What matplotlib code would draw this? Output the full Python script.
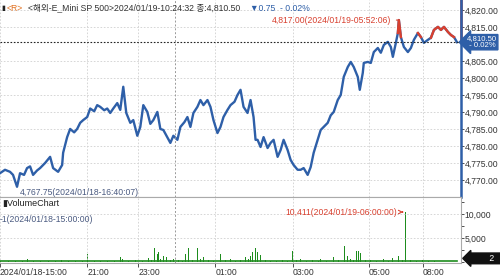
import numpy as np
import matplotlib
matplotlib.use("Agg")
import matplotlib.pyplot as plt
from matplotlib.ticker import FuncFormatter, MultipleLocator

# price trace (x = bar position on the chart, y = price)
px = [0, 5, 10, 13, 17, 20, 24, 27, 30, 33, 37, 40, 45, 50, 53, 58, 62, 63, 67, 70,
      74, 77, 80, 83, 87, 90, 94, 97, 100, 104, 107, 110, 113, 117, 120, 123, 126, 130, 133, 137,
      140, 143, 147, 150, 153, 157, 160, 163, 167, 170, 173, 177, 180, 184, 187, 190, 193, 197, 200, 203,
      207, 210, 213, 217, 220, 223, 227, 230, 234, 237, 240, 243, 247, 250, 253, 255, 257, 260, 263, 267,
      270, 273, 277, 280, 283, 287, 290, 293, 297, 300, 303, 307, 310, 313, 317, 320, 323, 327, 330, 333,
      337, 340, 343, 347, 350, 353, 357, 359, 362, 363, 367, 370, 373, 377, 380, 383, 387, 390, 392, 395,
      397, 398, 400, 403, 407, 410, 413, 417, 420, 423, 427, 430, 433, 437, 440, 443, 447, 450, 453, 456]
price = [4772, 4773, 4772.4, 4771.5, 4768, 4772, 4771.5, 4773.5, 4774, 4771.5, 4772.8, 4773.5, 4775, 4776.8, 4773.5, 4772.4, 4774.4, 4778, 4782.6, 4785,
         4784, 4785, 4786.8, 4787.6, 4788.5, 4791, 4790.2, 4792, 4791.5, 4790.5, 4791, 4789.7, 4791, 4792.6, 4790.6, 4797.4, 4789.7, 4786.8, 4787.6, 4783,
         4785.6, 4792, 4790, 4786.5, 4787.6, 4790, 4785, 4784.7, 4782.5, 4780.9, 4783, 4781.8, 4785.6, 4787, 4788.5, 4785.6, 4789.7, 4791.5, 4793.5, 4792,
         4793.5, 4791.5, 4787.6, 4783.8, 4785.6, 4788.5, 4790.6, 4792, 4793, 4795, 4796.5, 4791.5, 4789.7, 4793.5, 4788.5, 4781.8, 4781.8, 4779.7, 4782.6, 4779.4,
         4780.9, 4781.8, 4776.8, 4778.8, 4781.8, 4778.8, 4775.9, 4774.4, 4773, 4773, 4773.5, 4771.5, 4773.8, 4778, 4781.8, 4784.7, 4785.6, 4786.8, 4789, 4790,
         4793.5, 4795, 4800.3, 4803.2, 4804.7, 4803.2, 4800.3, 4796.5, 4801.5, 4804.4, 4804.7, 4804.4, 4807.6, 4808.8, 4807.4, 4809.7, 4810.6, 4809.1, 4806.2, 4810.3,
         4813.2, 4817, 4812, 4809.1, 4807.6, 4808.8, 4811.2, 4813.2, 4812, 4810.3, 4811.2, 4811.8, 4814.1, 4815, 4814.1, 4815, 4813.5, 4812.6, 4812, 4810.5]

prev_close = 4811.25
last_price = 4810.50

# volume bars
vol_x = [0, 8, 15, 22, 27, 33, 40, 48, 55, 61, 68, 75, 82, 87, 94, 100, 107, 114, 120, 122,
         128, 135, 142, 148, 151, 154, 157, 158, 160, 163, 166, 170, 173, 178, 182, 185, 188, 192, 197, 200,
         203, 208, 213, 220, 225, 230, 235, 240, 245, 248, 250, 252, 255, 257, 260, 265, 270, 276, 282, 287,
         292, 296, 300, 306, 312, 318, 320, 326, 333, 338, 344, 347, 350, 353, 356, 358, 360, 365, 370, 376,
         383, 388, 392, 398, 402, 405, 410, 416, 422, 428, 434, 440, 446, 452, 456]
vol_v = [300, 200, 250, 200, 700, 200, 250, 200, 300, 500, 200, 250, 200, 1700, 200, 250, 300, 200, 1000, 600,
         300, 400, 300, 800, 500, 2900, 1700, 2000, 600, 1350, 1000, 500, 700, 400, 300, 1700, 2850, 500, 3000, 600,
         1000, 400, 300, 1700, 400, 700, 300, 500, 1000, 600, 1300, 2000, 3000, 2000, 1500, 400, 300, 300, 400, 300,
         2200, 400, 700, 300, 400, 300, 700, 300, 1000, 500, 3250, 1300, 600, 400, 2350, 2350, 1800, 500, 400, 300,
         700, 300, 800, 1350, 500, 10411, 400, 300, 500, 200, 150, 100, 100, 100, 100]

price_ticks = [4770, 4775, 4780, 4785, 4790, 4795, 4800, 4805, 4815, 4820]
xtick_pos = [0, 87, 138, 215, 292, 368, 422]
xtick_lab = ["2024/01/18-15:00", "21:00", "23:00", "01:00", "03:00", "05:00", "08:00"]
midnight = 175

blue = "#2E5FA8"
red = "#D8402F"
green = "#1E8C1E"
txt = "#333333"
fnt = ["Liberation Sans", "Noto Sans CJK KR", "DejaVu Sans"]
plt.rcParams['font.family'] = fnt
fs = 6.2

fig = plt.figure(figsize=(5, 2.76), dpi=100)
ax = fig.add_axes([0, 1 - 197 / 276, 0.922, 197 / 276])
axv = fig.add_axes([0, 13 / 276, 0.922, 66 / 276])

px = np.array(px)
price = np.array(price)

# price line, blue below previous close, red above
ax.plot(px, price, color=blue, lw=1.7)
red_y = np.ma.masked_where(price < prev_close, price)
ax.plot(px, red_y, color=red, lw=1.7)
ax.axhline(last_price, color="#222222", lw=0.8, ls=(0, (1.5, 1.5)))

ax.set_xlim(0, 460)
ax.set_ylim(4765, 4822.9)
ax.yaxis.tick_right()
ax.set_yticks(price_ticks)
ax.yaxis.set_major_formatter(FuncFormatter(lambda v, p: "{:,.2f}".format(v)))
ax.tick_params(axis='y', labelsize=fs, colors=txt, length=2, pad=0.5, width=0.6)
ax.set_xticks(xtick_pos)
ax.tick_params(axis='x', length=0, labelbottom=False)
ax.grid(True, color="#d0d0d0", ls=(0, (2, 2)), lw=0.6)
ax.axvline(midnight, color="#999999", ls=(0, (2, 2)), lw=0.7)
for s in ["left", "top"]:
    ax.spines[s].set_visible(False)
ax.spines["bottom"].set_color("#aaaaaa")
ax.spines["right"].set_color(blue)
ax.spines["right"].set_linewidth(1.8)
yfrac = (last_price - 4765) / (4822.9 - 4765)
ax.plot([1, 1], [yfrac, 1], transform=ax.transAxes, color=red, lw=1.8, clip_on=False)

# last price tag
ax.text(1.013, yfrac, "4,810.50\n - 0.02%", transform=ax.transAxes, ha="left", va="center",
        fontsize=5.6, color="white", linespacing=0.95, zorder=5,
        bbox=dict(boxstyle="larrow,pad=0.1", fc=blue, ec=blue))

# high / low notes
ax.annotate("4,817.00(2024/01/19-05:52:06)", xy=(398, 4817), xytext=(390, 4817),
            ha="right", va="center", fontsize=fs, color=red,
            arrowprops=dict(arrowstyle="-", color=red, lw=0.8))
ax.annotate("4,767.75(2024/01/18-16:40:07)", xy=(17, 4768), xytext=(20, 4766.3),
            ha="left", va="center", fontsize=fs, color="#4a5a80",
            arrowprops=dict(arrowstyle="-", color="#4a5a80", lw=0.8, connectionstyle="angle,angleA=0,angleB=90"))

# header
fig.text(0.002, 0.971, "▮", fontsize=5, color="#222222", va="center")
fig.text(0.014, 0.971, "<R>", fontsize=fs, color="#E07020", va="center")
fig.text(0.056, 0.971, "<해외-E_Mini SP 500>2024/01/19-10:24:32 종:4,810.50", fontsize=fs,
         color=txt, va="center")
fig.text(0.50, 0.971, "▼0.75  - 0.02%", fontsize=fs, color=blue, va="center")

# volume panel
axv.bar(vol_x, vol_v, width=1.0, color=green)
axv.plot([0, 456], [120, 120], color=green, lw=1.2)
axv.set_xlim(0, 460)
axv.set_ylim(-200, 13540)
axv.yaxis.tick_right()
axv.set_yticks([5000, 10000])
axv.yaxis.set_minor_locator(MultipleLocator(2500))
axv.yaxis.set_major_formatter(FuncFormatter(lambda v, p: "{:,.0f}".format(v)))
axv.tick_params(axis='y', which='both', labelsize=fs, colors=txt, length=2, pad=0.5, width=0.6)
axv.set_xticks(xtick_pos)
axv.set_xticklabels(xtick_lab, ha="left")
axv.tick_params(axis='x', labelsize=fs, colors=txt, length=3, pad=0.5, width=0.6)
axv.grid(True, color="#d0d0d0", ls=(0, (2, 2)), lw=0.6)
axv.axvline(midnight, color="#999999", ls=(0, (2, 2)), lw=0.7)
for s in ["left"]:
    axv.spines[s].set_visible(False)
for s in ["top", "bottom", "right"]:
    axv.spines[s].set_color("#aaaaaa")
axv.text(0.004, 0.9, "▮VolumeChart", transform=axv.transAxes, fontsize=fs + 0.3, color="#222222", va="center")
axv.text(0.0, 0.66, "-1(2024/01/18-15:00:00)", transform=axv.transAxes, fontsize=fs,
         color="#4a5a80", va="center")
axv.annotate("10,411(2024/01/19-06:00:00)", xy=(405, 10411), xytext=(396, 10411),
             ha="right", va="center", fontsize=fs, color=red,
             arrowprops=dict(arrowstyle="->", color=red, lw=0.8))
axv.text(1.016, 0.07, "         2  ", transform=axv.transAxes, ha="left", va="center",
         fontsize=fs, color="white",
         bbox=dict(boxstyle="larrow,pad=0.1", fc="#111111", ec="#111111"))

fig.savefig("out.png", dpi=100, facecolor="white")
